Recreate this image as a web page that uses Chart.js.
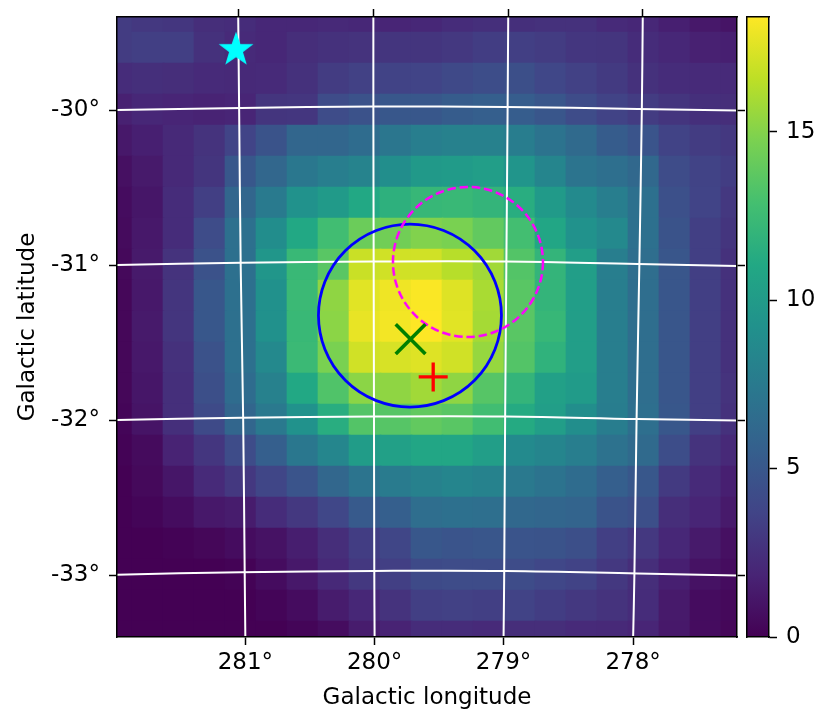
<!DOCTYPE html>
<html>
<head>
<meta charset="utf-8">
<script src="https://cdn.jsdelivr.net/npm/chart.js@4"></script>
<style>
  html, body { margin: 0; padding: 0; background: #fff; }
  #wrap { position: relative; width: 831px; height: 727px; overflow: hidden; }
  canvas { position: absolute; top: 0; }
</style>
</head>
<body>
<div id="wrap">
  <canvas id="map" width="831" height="727" style="left:0"></canvas>
  <canvas id="bar" width="91" height="727" style="left:740px"></canvas>
</div>
<script>
// map values, one row per latitude step, top row first
const counts = [
  [3.2,3.0,2.9,2.4,2.3,2.0,2.0,2.1,2.0,1.9,2.0,2.3,2.5,2.5,2.6,2.6,2.2,2.0,1.6,1.2,1.0],
  [3.2,3.4,3.4,2.6,2.2,2.0,2.4,2.6,2.7,2.8,2.8,3.0,3.3,3.4,3.2,2.9,2.8,2.3,2.0,1.7,1.6],
  [2.3,2.5,2.4,2.2,2.1,2.2,2.6,3.2,3.5,3.6,3.7,4.0,4.3,4.4,3.9,3.5,3.1,2.6,2.3,2.2,2.2],
  [1.7,2.0,1.9,1.8,1.9,2.8,2.9,4.2,4.6,5.0,5.0,5.3,5.5,5.4,4.9,4.2,3.6,3.2,2.8,2.5,2.4],
  [1.2,1.6,2.1,2.7,3.7,4.7,6.0,6.0,6.5,7.2,7.8,8.0,8.0,7.7,7.0,6.3,5.3,4.8,3.6,3.2,3.0],
  [0.8,1.3,2.1,2.8,5.0,6.1,7.3,7.8,8.2,9.0,9.8,10.0,10.2,9.5,8.3,7.1,6.7,6.2,4.2,3.6,3.3],
  [0.6,1.1,2.3,3.4,6.0,7.5,9.3,9.9,11.0,11.7,12.2,12.3,12.0,11.4,9.9,8.7,7.8,6.8,4.5,3.7,3.0],
  [0.5,1.2,2.3,4.2,6.8,8.9,11.0,12.7,14.2,14.4,14.9,14.7,13.9,12.8,10.9,9.3,8.6,6.8,4.7,3.4,2.8],
  [0.4,1.3,2.7,4.6,6.8,9.6,12.3,13.6,16.9,17.1,17.1,16.4,15.8,13.4,12.0,10.2,7.8,6.6,4.9,3.4,2.6],
  [0.3,1.2,2.8,5.0,6.8,9.2,12.4,15.3,17.6,18.0,18.3,17.5,16.0,13.6,12.0,10.2,7.8,6.6,4.9,3.4,2.6],
  [0.3,1.3,2.8,5.0,6.8,9.2,12.3,15.2,17.8,18.1,18.4,17.6,15.9,13.6,12.2,10.2,7.8,6.6,4.9,3.4,2.6],
  [0.3,1.2,2.6,4.6,6.8,8.6,12.4,14.7,17.1,17.3,17.5,17.1,15.5,13.4,11.8,10.2,7.8,6.6,4.9,3.4,2.6],
  [0.3,1.1,2.5,4.4,6.5,8.0,11.0,13.3,15.2,15.3,15.8,15.3,13.5,12.0,10.4,10.0,7.8,6.6,4.9,3.4,2.7],
  [0.2,1.0,2.5,4.1,6.0,7.4,9.3,11.4,13.4,13.5,13.9,13.6,12.7,11.2,10.2,9.0,7.7,6.7,5.0,3.4,2.6],
  [0.1,0.5,1.8,2.9,4.2,5.5,7.3,8.4,10.1,10.4,10.9,10.9,10.2,8.7,8.3,7.8,6.9,6.3,4.3,2.7,2.1],
  [0.0,0.4,1.1,2.2,3.0,3.8,4.8,6.1,7.1,7.6,8.0,8.3,8.1,7.4,7.0,6.5,5.5,5.0,3.1,2.2,1.6],
  [0.0,0.2,0.6,1.2,1.4,2.3,3.0,3.9,5.2,5.5,6.6,6.8,6.7,6.2,6.0,5.9,4.7,4.4,2.4,1.9,1.3],
  [0.0,0.0,0.1,0.3,0.6,0.9,1.5,2.4,3.3,3.8,5.0,4.8,4.9,4.8,4.7,4.4,3.4,3.0,2.0,1.3,0.8],
  [0.0,0.0,0.0,0.0,0.1,0.6,1.2,2.1,3.0,3.4,4.1,4.2,4.2,4.2,3.9,3.6,3.0,2.4,1.6,0.9,0.6],
  [0.0,0.0,0.0,0.0,0.0,0.2,0.6,1.4,2.0,2.7,3.4,3.5,3.4,3.6,3.3,3.0,2.7,2.3,1.3,0.6,0.4],
  [0.0,0.0,0.0,0.0,0.0,0.0,0.2,0.6,1.4,1.8,2.3,2.3,2.2,2.4,2.4,2.2,2.1,1.9,1.2,0.6,0.3]
];
const vmax = 18.4;

// axis ticks, in map cell units
const lonLabels = ['281°', '280°', '279°', '278°'];
const lonBottom = [4.14, 8.31, 12.47, 16.65];
const lonTop = [3.91, 8.27, 12.62, 16.96];
const latLabels = ['-30°', '-31°', '-32°', '-33°'];
const latLeft = [3, 8, 13, 18];
const latRight = [3.03, 8.03, 13.03, 18.03];
const barTicks = [0, 5, 10, 15];

// white coordinate grid
const parallelX = [0, 4, 8.27, 12.55, 16.8, 20];
const parallels = [
  [3.0, 2.935, 2.89, 2.9, 2.97, 3.02],
  [8.0, 7.925, 7.89, 7.89, 7.97, 8.03],
  [13.0, 12.925, 12.89, 12.89, 12.97, 13.02],
  [17.99, 17.91, 17.87, 17.87, 17.95, 18.02]
];
const meridianY = [0, 3, 8, 13, 18, 20];
const meridians = [
  [3.91, 3.94, 3.99, 4.07, 4.12, 4.14],
  [8.27, 8.27, 8.28, 8.29, 8.3, 8.31],
  [12.62, 12.6, 12.56, 12.52, 12.49, 12.47],
  [16.96, 16.93, 16.85, 16.76, 16.69, 16.65]
];

// markers
const blueCircle = [{ x: 9.45, y: 9.63 }];
const magentaCircle = [{ x: 11.32, y: 7.9 }];
const starPoint = [{ x: 3.84, y: 1.06 }];
const crossPoint = [{ x: 9.47, y: 10.39 }];
const plusPoint = [{ x: 10.2, y: 11.61 }];

const viridis = ['#440154', '#482475', '#414487', '#355f8d', '#2a788e', '#21918c', '#22a884', '#44bf70', '#7ad151', '#bddf26', '#fde725'];

function hexToRgb(h) {
  return [1, 3, 5].map(i => parseInt(h.substr(i, 2), 16));
}

function colorFor(v) {
  const t = Math.min(Math.max(v / vmax, 0), 1) * (viridis.length - 1);
  const i = Math.min(Math.floor(t), viridis.length - 2);
  const a = hexToRgb(viridis[i]);
  const b = hexToRgb(viridis[i + 1]);
  const f = t - i;
  const c = a.map((n, k) => Math.round(n + (b[k] - n) * f));
  return `rgb(${c[0]},${c[1]},${c[2]})`;
}

function dashedRing(radius, color) {
  const c = document.createElement('canvas');
  c.width = c.height = Math.ceil(radius * 2 + 6);
  const ctx = c.getContext('2d');
  ctx.strokeStyle = color;
  ctx.lineWidth = 2.5;
  ctx.setLineDash([8.5, 3.8]);
  ctx.beginPath();
  ctx.arc(c.width / 2, c.height / 2, radius, 0, Math.PI * 2);
  ctx.stroke();
  return c;
}

function filledStar(radius, color) {
  const c = document.createElement('canvas');
  c.width = c.height = Math.ceil(radius * 2 + 6);
  const ctx = c.getContext('2d');
  ctx.fillStyle = color;
  ctx.strokeStyle = color;
  ctx.lineWidth = 1.5;
  ctx.beginPath();
  for (let i = 0; i < 10; i++) {
    const r = i % 2 ? radius * 0.4 : radius;
    const a = -Math.PI / 2 + i * Math.PI / 5;
    ctx.lineTo(c.width / 2 + r * Math.cos(a), c.height / 2 + r * Math.sin(a));
  }
  ctx.closePath();
  ctx.fill();
  ctx.stroke();
  return c;
}

const font = { family: '"DejaVu Sans"', size: 23 };
const black = '#000';

function fixedTicks(values) {
  return scale => { scale.ticks = values.map(v => ({ value: v })); };
}

// labels would otherwise push the plot area in
function noLabelPadding(s) {
  s.paddingTop = s.paddingBottom = s.paddingLeft = s.paddingRight = 0;
}

function axisBase(pos, values, labels, size, pad) {
  return {
    type: 'linear',
    position: pos,
    min: 0,
    max: 20,
    offset: false,
    afterBuildTicks: fixedTicks(values),
    afterFit: s => {
      if (pos === 'left' || pos === 'right') s.width = size; else s.height = size;
      noLabelPadding(s);
    },
    border: { display: true, color: black, width: 1.5, z: 1 },
    grid: { drawOnChartArea: false, offset: false, tickLength: 8, tickWidth: 1.5, tickColor: black },
    ticks: {
      display: !!labels,
      autoSkip: false,
      maxRotation: 0,
      minRotation: 0,
      padding: pad,
      color: black,
      font: font,
      callback: (v, i) => labels ? labels[i] : ''
    }
  };
}

// one bar dataset per row, cells overlap by a pixel so no seams show
// datasets paint last to first, so the rows go in reversed
const barDatasets = counts.map((row, j) => ({
  type: 'bar',
  grouped: false,
  barThickness: 32,
  borderWidth: 0,
  backgroundColor: row.map(colorFor),
  data: row.map((v, i) => ({ x: i, y: [j - 16 / 31, j + 16 / 31] }))
})).reverse();

function gridLine(points) {
  return {
    type: 'scatter',
    showLine: true,
    tension: 0.4,
    borderColor: '#fff',
    borderWidth: 2,
    pointRadius: 0,
    data: points
  };
}

const gridDatasets = [
  ...parallels.map(ys => gridLine(ys.map((y, i) => ({ x: parallelX[i], y })))),
  ...meridians.map(xs => gridLine(xs.map((x, i) => ({ x, y: meridianY[i] }))))
];

const markerDatasets = [
  {
    type: 'scatter', data: plusPoint, pointStyle: 'cross', pointRadius: 14.5,
    pointBorderWidth: 3.3, pointBorderColor: '#ff0000'
  },
  {
    type: 'scatter', data: crossPoint, pointStyle: 'crossRot', pointRadius: 21,
    pointBorderWidth: 3.6, pointBorderColor: '#008000'
  },
  { type: 'scatter', data: starPoint, pointStyle: filledStar(16, '#00ffff'), pointRadius: 16 },
  { type: 'scatter', data: magentaCircle, pointStyle: dashedRing(75, '#ff00ff'), pointRadius: 75 },
  {
    type: 'scatter', data: blueCircle, pointStyle: 'circle', pointRadius: 91.5,
    pointBorderWidth: 2.8, pointBorderColor: '#0000ff', pointBackgroundColor: 'rgba(0,0,0,0)'
  }
];

const xBottom = axisBase('bottom', lonBottom, lonLabels, 90, 4);
xBottom.title = { display: true, text: 'Galactic longitude', color: black, font: font, padding: { top: 8, bottom: 15 } };
const yLeft = axisBase('left', latLeft, latLabels, 117, 9);
yLeft.reverse = true;
yLeft.title = { display: true, text: 'Galactic latitude', color: black, font: font, padding: { top: 14, bottom: 0 } };
const xTop = axisBase('top', lonTop, null, 17, 0);
const yRight = axisBase('right', latRight, null, 94, 0);
yRight.reverse = true;

new Chart(document.getElementById('map'), {
  type: 'bar',
  data: { datasets: [...markerDatasets, ...gridDatasets, ...barDatasets] },
  options: {
    responsive: false,
    animation: false,
    layout: { padding: 0, autoPadding: false },
    plugins: { legend: { display: false }, tooltip: { enabled: false } },
    scales: { x: xBottom, y: yLeft, xTop: xTop, yRight: yRight }
  }
});

// colour bar, a single bar from 0 to vmax painted with the colormap
function barGradient(ctx) {
  const area = ctx.chart.chartArea;
  if (!area) return viridis[0];
  const g = ctx.chart.ctx.createLinearGradient(0, area.bottom, 0, area.top);
  viridis.forEach((c, i) => g.addColorStop(i / (viridis.length - 1), c));
  return g;
}

const edge = size => ({
  display: true,
  afterFit: s => {
    if (s.isHorizontal()) s.height = size; else s.width = size;
    noLabelPadding(s);
  },
  border: { display: true, color: black, width: 1.5, z: 1 },
  grid: { display: true, drawOnChartArea: false, drawTicks: false },
  ticks: { display: false }
});

new Chart(document.getElementById('bar'), {
  type: 'bar',
  data: {
    labels: [''],
    datasets: [{
      data: [[0, vmax]],
      backgroundColor: barGradient,
      borderWidth: 0,
      barPercentage: 1,
      categoryPercentage: 1
    }]
  },
  options: {
    responsive: false,
    animation: false,
    layout: { padding: { left: 7, top: 0, right: 0, bottom: 0 }, autoPadding: false },
    plugins: { legend: { display: false }, tooltip: { enabled: false } },
    scales: {
      x: { ...edge(90), position: 'bottom' },
      xTop: { ...edge(17), position: 'top', type: 'category', labels: [''] },
      yLeft: { ...edge(0), position: 'left', type: 'linear', min: 0, max: vmax },
      y: {
        position: 'right',
        min: 0,
        max: vmax,
        afterBuildTicks: fixedTicks(barTicks),
        afterFit: s => { s.width = 62; noLabelPadding(s); },
        border: { display: true, color: black, width: 1.5, z: 1 },
        grid: { drawOnChartArea: false, tickLength: 8, tickWidth: 1.5, tickColor: black },
        ticks: { color: black, font: font, padding: 9, autoSkip: false }
      }
    }
  }
});
</script>
</body>
</html>
